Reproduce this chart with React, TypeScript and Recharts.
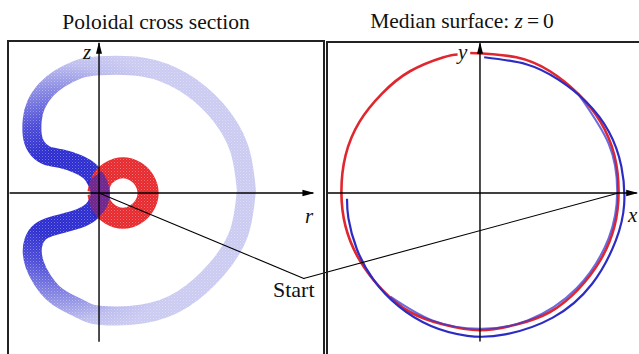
import { ComposedChart, Line, Scatter, XAxis, YAxis, ReferenceLine } from 'recharts'

const W = 639
const H = 354

// Poloidal plane (r, z): centre line of the blue tube, traced once round,
// starting on its right-hand side
const tubeLoop = [
  { r: 1.17, z: 0.02 }, { r: 1.11, z: 0.36 }, { r: 0.93, z: 0.66 }, { r: 0.67, z: 0.88 },
  { r: 0.35, z: 1.0 }, { r: 0.0, z: 1.01 }, { r: -0.17, z: 0.98 }, { r: -0.31, z: 0.91 },
  { r: -0.42, z: 0.82 }, { r: -0.5, z: 0.7 }, { r: -0.53, z: 0.58 }, { r: -0.53, z: 0.46 },
  { r: -0.5, z: 0.37 }, { r: -0.42, z: 0.3 }, { r: -0.29, z: 0.27 }, { r: -0.17, z: 0.23 },
  { r: -0.07, z: 0.17 }, { r: -0.01, z: 0.08 }, { r: 0.01, z: -0.01 }, { r: -0.02, z: -0.1 },
  { r: -0.09, z: -0.17 }, { r: -0.21, z: -0.22 }, { r: -0.36, z: -0.26 }, { r: -0.47, z: -0.31 },
  { r: -0.52, z: -0.39 }, { r: -0.53, z: -0.47 }, { r: -0.51, z: -0.57 }, { r: -0.45, z: -0.69 },
  { r: -0.37, z: -0.79 }, { r: -0.27, z: -0.86 }, { r: -0.13, z: -0.93 }, { r: 0.0, z: -0.97 },
  { r: 0.35, z: -0.96 }, { r: 0.67, z: -0.84 }, { r: 0.93, z: -0.61 }, { r: 1.11, z: -0.32 },
  { r: 1.17, z: 0.02 },
]
// the part of the tube that crosses the red torus
const tubeCrossing = [
  { r: -0.04, z: 0.13 }, { r: -0.01, z: 0.08 }, { r: 0.01, z: -0.01 }, { r: -0.02, z: -0.1 },
  { r: -0.06, z: -0.13 },
]
// red torus section, starting on its left so the seam sits under the blue tube
const ringRed = [
  { r: -0.01, z: 0.0 }, { r: 0.02, z: -0.1 }, { r: 0.09, z: -0.17 }, { r: 0.19, z: -0.2 },
  { r: 0.29, z: -0.17 }, { r: 0.36, z: -0.1 }, { r: 0.39, z: 0.0 }, { r: 0.36, z: 0.1 },
  { r: 0.29, z: 0.17 }, { r: 0.19, z: 0.2 }, { r: 0.09, z: 0.17 }, { r: 0.02, z: 0.1 },
  { r: -0.01, z: 0.0 },
]

// Median plane (x, y)
const redOrbit = [
  { x: -0.07, y: 1.0 }, { x: 0.26, y: 0.97 }, { x: 0.5, y: 0.87 }, { x: 0.7, y: 0.71 },
  { x: 0.86, y: 0.51 }, { x: 0.96, y: 0.27 }, { x: 0.99, y: 0.01 }, { x: 0.96, y: -0.24 },
  { x: 0.86, y: -0.48 }, { x: 0.7, y: -0.69 }, { x: 0.5, y: -0.85 }, { x: 0.26, y: -0.94 },
  { x: 0.0, y: -0.98 }, { x: -0.26, y: -0.94 }, { x: -0.5, y: -0.85 }, { x: -0.7, y: -0.69 },
  { x: -0.86, y: -0.48 }, { x: -0.96, y: -0.24 }, { x: -0.99, y: 0.01 }, { x: -0.96, y: 0.27 },
  { x: -0.86, y: 0.51 }, { x: -0.7, y: 0.71 }, { x: -0.5, y: 0.87 }, { x: -0.26, y: 0.97 },
  { x: -0.16, y: 0.99 },
]
const blueOrbit = [
  { x: 0.03, y: 0.97 }, { x: 0.33, y: 0.92 }, { x: 0.56, y: 0.81 }, { x: 0.76, y: 0.65 },
  { x: 0.92, y: 0.44 }, { x: 1.01, y: 0.19 }, { x: 1.03, y: -0.08 }, { x: 0.97, y: -0.34 },
  { x: 0.8, y: -0.65 }, { x: 0.52, y: -0.89 }, { x: 0.18, y: -1.01 }, { x: -0.09, y: -1.02 },
  { x: -0.35, y: -0.95 }, { x: -0.58, y: -0.81 }, { x: -0.76, y: -0.62 }, { x: -0.88, y: -0.4 },
  { x: -0.94, y: -0.18 }, { x: -0.95, y: -0.04 },
]
const blueInner = [
  { x: 0.7, y: 0.71 }, { x: 0.92, y: 0.35 }, { x: 0.98, y: 0.01 }, { x: 0.92, y: -0.32 },
  { x: 0.69, y: -0.68 }, { x: 0.34, y: -0.91 }, { x: 0.0, y: -0.97 }, { x: -0.34, y: -0.91 },
  { x: -0.64, y: -0.74 },
]

// "Start" leader: origin of the left plot -> knee -> orbit crossing on the right
const startLeft = [{ r: 0, z: 0 }, { r: 1.63, z: -0.68 }]
const startRight = [{ x: -1.26, y: -0.61 }, { x: 0.99, y: 0.0 }]

const zTip = [{ r: 0, z: 1.2 }]
const rTip = [{ r: 1.71, z: 0 }]
const yTip = [{ x: 0, y: 1.08 }]
const xTip = [{ x: 1.13, y: 0 }]

const arrowUp = (p: any) => (
  <polygon points={`${p.cx},${p.cy} ${p.cx - 3},${p.cy + 12} ${p.cx + 3},${p.cy + 12}`} fill="#000" />
)
const arrowRight = (p: any) => (
  <polygon points={`${p.cx},${p.cy} ${p.cx - 12},${p.cy - 3.3} ${p.cx - 12},${p.cy + 3.3}`} fill="#000" />
)

const serif = '"Liberation Serif", "Times New Roman", serif'

export default function App() {
  return (
    <div style={{ position: 'absolute', left: 0, top: 0, width: W, height: H, background: '#fff', overflow: 'hidden' }}>
      <ComposedChart width={W} height={H} margin={{ top: 0, right: 0, bottom: 0, left: 0 }}>
        <XAxis xAxisId="r" dataKey="r" type="number" domain={[-0.786, 4.286]} allowDataOverflow hide />
        <YAxis yAxisId="z" dataKey="z" type="number" domain={[-1.278, 1.532]} allowDataOverflow hide />
        <XAxis xAxisId="x" dataKey="x" type="number" domain={[-3.429, 1.136]} allowDataOverflow hide />
        <YAxis yAxisId="y" dataKey="y" type="number" domain={[-1.15, 1.379]} allowDataOverflow hide />

        {/* poloidal cross section */}
        <Line xAxisId="r" yAxisId="z" data={tubeLoop} dataKey="z" type="natural" stroke="url(#tubeShade)"
          strokeWidth={19} strokeLinecap="round" dot={false} activeDot={false} isAnimationActive={false} />
        <Line xAxisId="r" yAxisId="z" data={tubeLoop} dataKey="z" type="natural" stroke="url(#stipple)"
          strokeWidth={19} strokeLinecap="round" dot={false} activeDot={false} isAnimationActive={false} />
        <Line xAxisId="r" yAxisId="z" data={ringRed} dataKey="z" type="natural" stroke="#e62a2e"
          strokeWidth={21} dot={false} activeDot={false} isAnimationActive={false} />
        <Line xAxisId="r" yAxisId="z" data={ringRed} dataKey="z" type="natural" stroke="url(#stipple)"
          strokeWidth={21} dot={false} activeDot={false} isAnimationActive={false} />
        <Line xAxisId="r" yAxisId="z" data={tubeCrossing} dataKey="z" type="natural" stroke="#2424c8"
          strokeOpacity={0.6} strokeWidth={19} strokeLinecap="butt" dot={false} activeDot={false} isAnimationActive={false} />

        <ReferenceLine xAxisId="r" yAxisId="z" segment={[{ x: 0, y: -1.18 }, { x: 0, y: 1.19 }]} stroke="#000" strokeWidth={1.4} />
        <ReferenceLine xAxisId="r" yAxisId="z" segment={[{ x: -0.71, y: 0 }, { x: 1.7, y: 0 }]} stroke="#000" strokeWidth={1.4} />
        <Scatter xAxisId="r" yAxisId="z" data={zTip} shape={arrowUp} isAnimationActive={false} />
        <Scatter xAxisId="r" yAxisId="z" data={rTip} shape={arrowRight} isAnimationActive={false} />

        {/* median surface */}
        <Line xAxisId="x" yAxisId="y" data={redOrbit} dataKey="y" type="natural" stroke="#e0262e"
          strokeWidth={2.6} dot={false} activeDot={false} isAnimationActive={false} />
        <Line xAxisId="x" yAxisId="y" data={blueInner} dataKey="y" type="natural" stroke="#3a3ad0"
          strokeOpacity={0.75} strokeWidth={2} dot={false} activeDot={false} isAnimationActive={false} />
        <Line xAxisId="x" yAxisId="y" data={blueOrbit} dataKey="y" type="natural" stroke="#2c2cc4"
          strokeWidth={2.2} dot={false} activeDot={false} isAnimationActive={false} />

        <ReferenceLine xAxisId="x" yAxisId="y" segment={[{ x: 0, y: -1.06 }, { x: 0, y: 1.07 }]} stroke="#000" strokeWidth={1.4} />
        <ReferenceLine xAxisId="x" yAxisId="y" segment={[{ x: -1.09, y: 0 }, { x: 1.12, y: 0 }]} stroke="#000" strokeWidth={1.4} />
        <Scatter xAxisId="x" yAxisId="y" data={yTip} shape={arrowUp} isAnimationActive={false} />
        <Scatter xAxisId="x" yAxisId="y" data={xTip} shape={arrowRight} isAnimationActive={false} />

        {/* leader lines to the "Start" label */}
        <Line xAxisId="r" yAxisId="z" data={startLeft} dataKey="z" type="linear" stroke="#000"
          strokeWidth={1.1} dot={false} activeDot={false} isAnimationActive={false} />
        <Line xAxisId="x" yAxisId="y" data={startRight} dataKey="y" type="linear" stroke="#000"
          strokeWidth={1.1} dot={false} activeDot={false} isAnimationActive={false} />
      </ComposedChart>

      <svg width={W} height={H} style={{ position: 'absolute', left: 0, top: 0, pointerEvents: 'none' }}>
        <defs>
          {/* tube gets darker towards its pinched middle */}
          <radialGradient id="tubeShade" gradientUnits="userSpaceOnUse" cx={58} cy={193} r={150}>
            <stop offset="0.28" stopColor="#2c2cd0" />
            <stop offset="0.48" stopColor="#4c4cd8" />
            <stop offset="0.7" stopColor="#8c8ce4" />
            <stop offset="0.86" stopColor="#bebeee" />
            <stop offset="1" stopColor="#cbcbf2" />
          </radialGradient>
          {/* fine speckle so the tubes read as point clouds */}
          <pattern id="stipple" patternUnits="userSpaceOnUse" width={3} height={3}>
            <rect x={0} y={0} width={1} height={1} fill="#fff" fillOpacity={0.35} />
            <rect x={1.5} y={1.5} width={1} height={1} fill="#fff" fillOpacity={0.2} />
          </pattern>
        </defs>

        {/* panel frames */}
        <path d="M8,400 L8,41 L324,41 L324,400" fill="none" stroke="#222" strokeWidth={2} />
        <path d="M327,400 L327,42 L650,42" fill="none" stroke="#222" strokeWidth={2} />

        <g fontFamily={serif} fill="#111">
          <text x={156} y={29} fontSize={21.5} textAnchor="middle">Poloidal cross section</text>
          <text x={462} y={28} fontSize={21.5} textAnchor="middle">
            Median surface: <tspan fontStyle="italic">z</tspan>
            <tspan dx={4}>=</tspan>
            <tspan dx={4}>0</tspan>
          </text>
          <text x={83} y={59} fontSize={21} fontStyle="italic">z</text>
          <text x={305} y={223} fontSize={21} fontStyle="italic">r</text>
          <text x={628} y={222} fontSize={21} fontStyle="italic">x</text>
          <text x={458} y={59} fontSize={21} fontStyle="italic">y</text>
          <text x={273} y={297} fontSize={22}>Start</text>
        </g>
      </svg>
    </div>
  )
}
